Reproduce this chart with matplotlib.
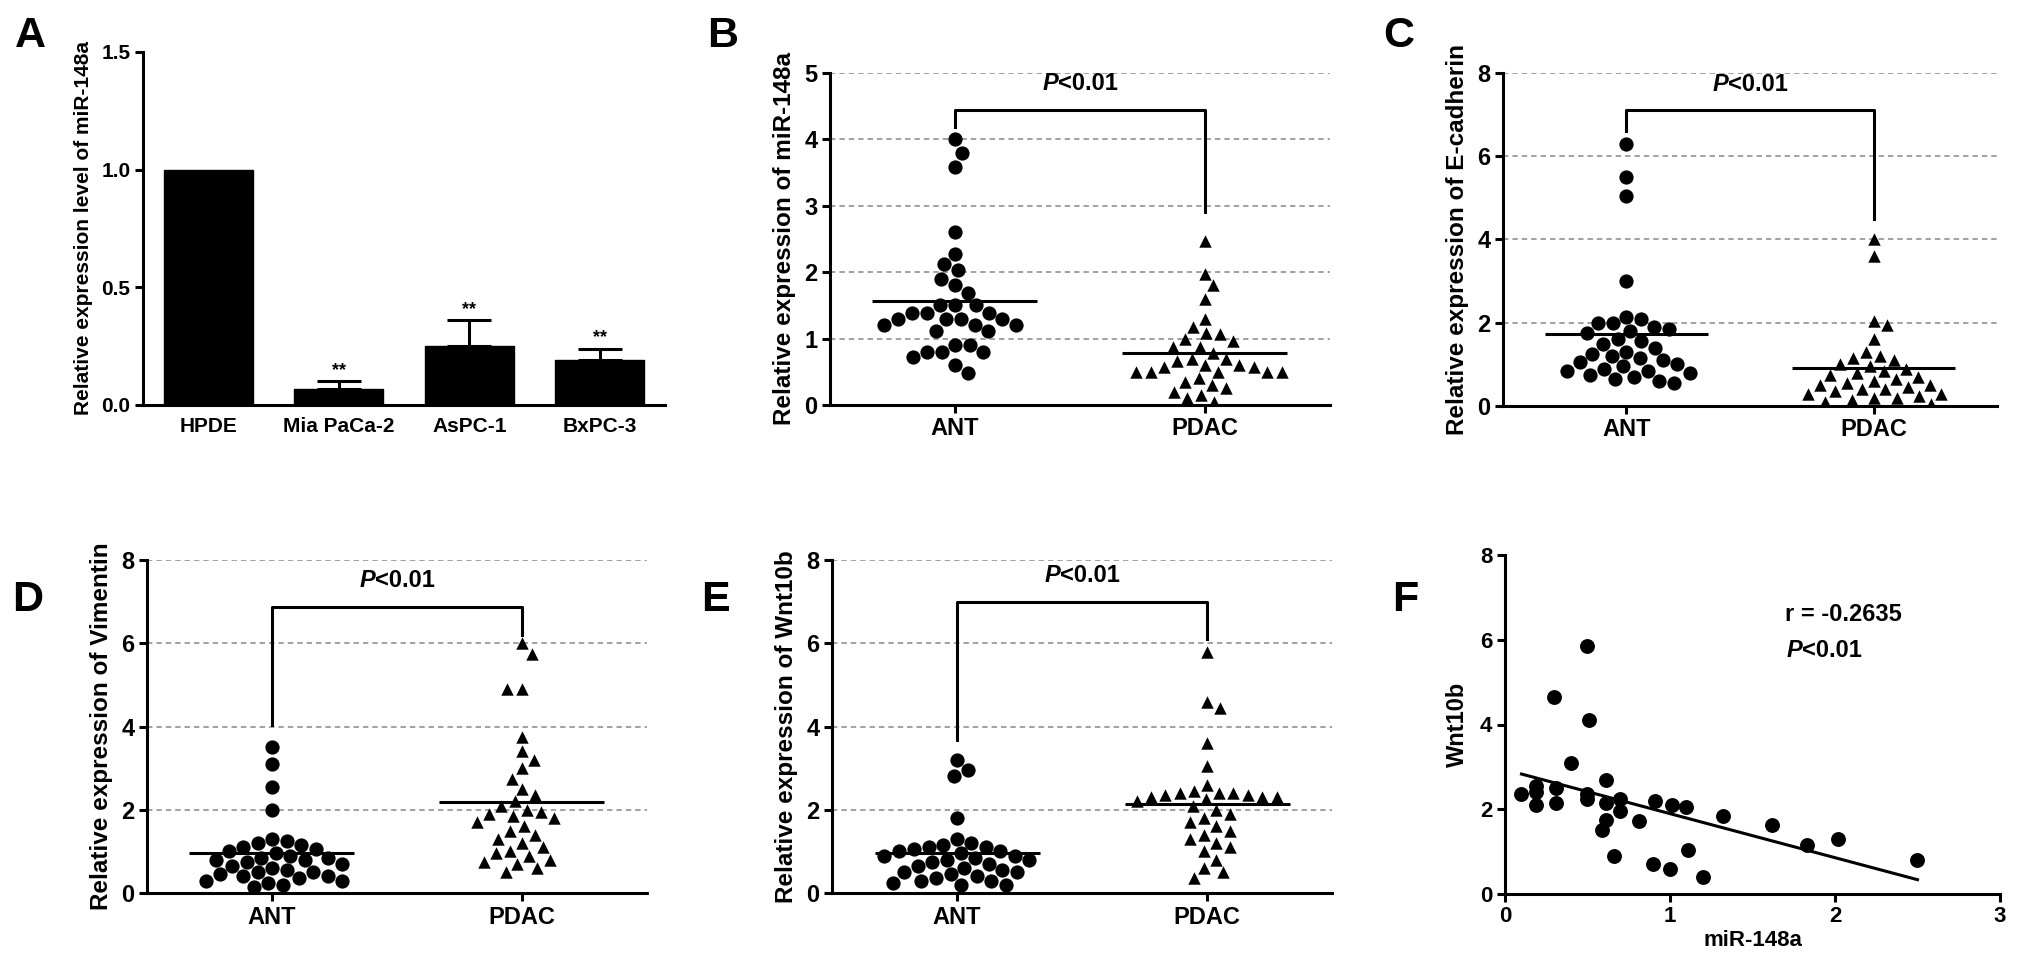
import numpy as np
import matplotlib
matplotlib.use("Agg")
import matplotlib.pyplot as plt
from matplotlib.ticker import FormatStrFormatter

plt.rcParams['font.family'] = ['Liberation Sans', 'DejaVu Sans']
plt.rcParams['font.weight'] = 'bold'
plt.rcParams['axes.labelweight'] = 'bold'

W, H = 2031, 969

# ---- panel A: cell lines
cell_lines = ["HPDE", "Mia PaCa-2", "AsPC-1", "BxPC-3"]
cell_means = [1.0, 0.07, 0.25, 0.19]
cell_err = [0.0, 0.03, 0.11, 0.05]

groups = ["ANT", "PDAC"]

# ---- panel B: miR-148a
mir_ant = [4.0, 3.8, 3.58, 2.61, 2.28, 2.12, 2.04, 1.9, 1.81, 1.69, 1.5, 1.5, 1.5,
           1.39, 1.39, 1.39, 1.29, 1.29, 1.29, 1.29, 1.21, 1.21, 1.21, 1.11, 1.11,
           0.9, 0.9, 0.8, 0.8, 0.8, 0.72, 0.6, 0.48]
mir_pdac = [2.47, 1.98, 1.8, 1.59, 1.3, 1.18, 1.08, 1.07, 1.0, 0.97, 0.88, 0.88,
            0.78, 0.7, 0.7, 0.67, 0.6, 0.6, 0.57, 0.57, 0.5, 0.5, 0.5, 0.5, 0.5,
            0.4, 0.35, 0.3, 0.25, 0.2, 0.15, 0.1, 0.05]

# ---- panel C: E-cadherin
ecad_ant = [6.3, 5.5, 5.05, 3.0, 2.15, 2.1, 2.0, 2.0, 1.9, 1.85, 1.8, 1.75, 1.6,
            1.55, 1.5, 1.4, 1.3, 1.25, 1.2, 1.15, 1.1, 1.05, 1.0, 0.95, 0.9, 0.85,
            0.85, 0.8, 0.75, 0.7, 0.65, 0.6, 0.55]
ecad_pdac = [4.0, 3.6, 2.05, 1.95, 1.6, 1.3, 1.2, 1.15, 1.1, 1.0, 0.95, 0.9, 0.85,
             0.8, 0.75, 0.7, 0.65, 0.6, 0.55, 0.5, 0.5, 0.45, 0.4, 0.4, 0.35, 0.3,
             0.3, 0.25, 0.2, 0.2, 0.15, 0.1, 0.05]

# ---- panel D: Vimentin
vim_ant = [3.5, 3.1, 2.55, 2.0, 1.3, 1.25, 1.2, 1.15, 1.1, 1.05, 1.0, 0.95, 0.9,
           0.85, 0.85, 0.8, 0.8, 0.75, 0.7, 0.65, 0.6, 0.55, 0.5, 0.5, 0.45, 0.4,
           0.4, 0.35, 0.3, 0.3, 0.25, 0.2, 0.15]
vim_pdac = [6.0, 5.75, 4.9, 4.9, 3.75, 3.4, 3.2, 3.0, 2.75, 2.5, 2.35, 2.2, 2.1,
            2.0, 1.95, 1.9, 1.85, 1.8, 1.7, 1.6, 1.5, 1.4, 1.3, 1.2, 1.1, 1.0,
            0.95, 0.9, 0.8, 0.75, 0.7, 0.6, 0.5]

# ---- panel E: Wnt10b
wnt_ant = [3.2, 2.95, 2.8, 1.8, 1.3, 1.2, 1.15, 1.1, 1.1, 1.05, 1.0, 1.0, 0.95,
           0.9, 0.9, 0.85, 0.8, 0.8, 0.75, 0.7, 0.65, 0.6, 0.55, 0.5, 0.5, 0.45,
           0.4, 0.35, 0.3, 0.3, 0.25, 0.2, 0.2]
wnt_pdac = [5.8, 4.6, 4.45, 3.6, 3.05, 2.6, 2.45, 2.4, 2.4, 2.4, 2.35, 2.35, 2.3,
            2.3, 2.3, 2.25, 2.2, 2.1, 2.0, 1.9, 1.8, 1.7, 1.6, 1.5, 1.4, 1.3, 1.2,
            1.1, 1.0, 0.8, 0.6, 0.5, 0.35]

# ---- panel F: correlation
corr_mir = [0.50, 0.30, 0.51, 0.40, 0.61, 0.10, 0.19, 0.19, 0.19, 0.31, 0.31, 0.50,
            0.50, 0.61, 0.70, 0.70, 0.61, 0.59, 0.81, 0.91, 1.01, 1.10, 1.32, 1.62,
            1.83, 2.02, 1.11, 0.66, 0.90, 1.00, 1.20, 2.50]
corr_wnt = [5.85, 4.65, 4.10, 3.10, 2.70, 2.35, 2.55, 2.40, 2.10, 2.50, 2.15, 2.35,
            2.25, 2.15, 2.25, 1.95, 1.75, 1.52, 1.72, 2.20, 2.10, 2.05, 1.85, 1.62,
            1.15, 1.30, 1.05, 0.90, 0.70, 0.60, 0.40, 0.80]

LW = 2.2
GRID = '#9a9a9a'

fig = plt.figure(figsize=(W / 100, H / 100), dpi=100)


def box(l, t, r, b):
    return fig.add_axes([l / W, 1 - b / H, (r - l) / W, (b - t) / H])


def base_style(ax, tick_size):
    for s in ['top', 'right']:
        ax.spines[s].set_visible(False)
    for s in ['left', 'bottom']:
        ax.spines[s].set_linewidth(LW)
    ax.tick_params(width=LW, length=6, labelsize=tick_size, pad=3)


def swarm_x(ax, vals, xc, d):
    t = ax.transData
    o = t.transform((0, 0))
    sx = t.transform((1, 0))[0] - o[0]
    sy = t.transform((0, 1))[1] - o[1]
    ys = np.asarray(vals, float) * sy
    order = np.argsort(-ys, kind='stable')
    px, py = [], []
    offs = np.zeros(len(ys))
    flip = 1
    for i in order:
        y = ys[i]
        cands = [0.0]
        for xj, yj in zip(px, py):
            dy = y - yj
            if abs(dy) < d:
                dx = np.sqrt(d * d - dy * dy)
                cands += [xj + dx, xj - dx]
        cands.sort(key=lambda c: (round(abs(c), 3), -flip * c))
        for c in cands:
            if all((c - xj) ** 2 + (y - yj) ** 2 >= d * d - 1e-6 for xj, yj in zip(px, py)):
                break
        if c != 0:
            flip = -flip
        px.append(c)
        py.append(y)
        offs[i] = c
    return xc + offs / sx


def p_label(ax, x, y, size=17, ha='center'):
    # italic P followed by "<0.01"
    if ha == 'center':
        shift = -0.93 * size
    else:
        shift = 0.70 * size
    ax.annotate('P', (x, y), xytext=(shift, 0), textcoords='offset points',
                ha='right', va='center', fontsize=size, style='italic', fontweight='bold')
    ax.annotate('<0.01', (x, y), xytext=(shift, 0), textcoords='offset points',
                ha='left', va='center', fontsize=size, fontweight='bold')


def dot_panel(l, t, r, b, ant, pdac, ymax, ystep, ylabel, bracket, letter, letter_xy):
    ax = box(l, t, r, b)
    ax.set_xlim(-0.5, 1.5)
    ax.set_ylim(0, ymax)
    ax.set_yticks(np.arange(0, ymax + 0.01, ystep))
    ax.set_xticks([0, 1])
    ax.set_xticklabels(groups, fontsize=18)
    base_style(ax, 17)
    ax.yaxis.grid(True, color=GRID, linestyle=(0, (3, 2.2)), linewidth=1.3)
    ax.set_axisbelow(True)
    ax.set_ylabel(ylabel, fontsize=17.5, labelpad=6)

    xa = swarm_x(ax, ant, 0, 15)
    ax.scatter(xa, ant, s=105, marker='o', color='k', linewidths=0, zorder=3)
    xp = swarm_x(ax, pdac, 1, 14.5)
    ax.scatter(xp, pdac, s=80, marker='^', color='k', linewidths=0, zorder=3)
    for xc, v in [(0, ant), (1, pdac)]:
        m = np.mean(v)
        ax.plot([xc - 0.33, xc + 0.33], [m, m], color='k', lw=LW, zorder=4,
                solid_capstyle='butt')

    lo_left, top, lo_right = bracket
    ax.plot([0, 0, 1, 1], [lo_left, top, top, lo_right], color='k', lw=LW,
            zorder=4, clip_on=False)
    p_label(ax, 0.5, top + (ymax / 8) * 0.62)
    fig.text(letter_xy[0] / W, 1 - letter_xy[1] / H, letter, fontsize=31,
             fontweight='bold', ha='center', va='center')
    return ax


# ---------------- A
axA = box(143, 52, 665, 405)
xA = np.arange(len(cell_lines))
axA.bar(xA, cell_means, width=0.68, color='k', edgecolor='k', zorder=2)
axA.errorbar(xA[1:], cell_means[1:], yerr=[np.zeros(3), cell_err[1:]], fmt='none',
             ecolor='k', elinewidth=LW, capsize=16, capthick=LW, zorder=1)
for xi, m, e in zip(xA[1:], cell_means[1:], cell_err[1:]):
    axA.text(xi, m + e + 0.045, '**', ha='center', va='center', fontsize=13)
axA.set_xlim(-0.5, 3.5)
axA.set_ylim(0, 1.5)
axA.set_yticks([0, 0.5, 1.0, 1.5])
axA.yaxis.set_major_formatter(FormatStrFormatter('%.1f'))
axA.set_xticks(xA)
axA.set_xticklabels(cell_lines, fontsize=14.5)
base_style(axA, 15)
axA.tick_params(axis='x', length=0, pad=9)
axA.set_ylabel('Relative expression level of miR-148a', fontsize=15, labelpad=6)
fig.text(30 / W, 1 - 36 / H, 'A', fontsize=31, fontweight='bold', ha='center', va='center')

# ---------------- B-E
dot_panel(830, 73, 1330, 405, mir_ant, mir_pdac, 5, 1, 'Relative expression of miR-148a',
          (4.18, 4.45, 2.9), 'B', (723, 36))
dot_panel(1503, 73, 1997, 406, ecad_ant, ecad_pdac, 8, 2, 'Relative expression of E-cadherin',
          (6.6, 7.1, 4.5), 'C', (1399, 36))
dot_panel(147, 560, 647, 893, vim_ant, vim_pdac, 8, 2, 'Relative expression of Vimentin',
          (4.04, 6.88, 6.2), 'D', (28, 600))
dot_panel(832, 560, 1332, 893, wnt_ant, wnt_pdac, 8, 2, 'Relative expression of Wnt10b',
          (3.68, 7.0, 6.1), 'E', (715, 600))

# ---------------- F
axF = box(1505, 555, 2000, 894)
axF.scatter(corr_mir, corr_wnt, s=115, color='k', linewidths=0, zorder=3)
k, c0 = np.polyfit(corr_mir, corr_wnt, 1)
xl = np.array([min(corr_mir), max(corr_mir)])
axF.plot(xl, k * xl + c0, color='k', lw=LW)
axF.set_xlim(0, 3)
axF.set_ylim(0, 8)
axF.set_xticks([0, 1, 2, 3])
axF.set_yticks([0, 2, 4, 6, 8])
base_style(axF, 16)
axF.set_xlabel('miR-148a', fontsize=16, labelpad=2)
axF.set_ylabel('Wnt10b', fontsize=17, labelpad=8)
axF.text(1.7, 6.6, 'r = -0.2635', fontsize=17, fontweight='bold', ha='left', va='center')
p_label(axF, 1.7, 5.75, ha='left')
fig.text(1405 / W, 1 - 600 / H, 'F', fontsize=31, fontweight='bold', ha='center', va='center')

fig.savefig('out.png', dpi=100)
